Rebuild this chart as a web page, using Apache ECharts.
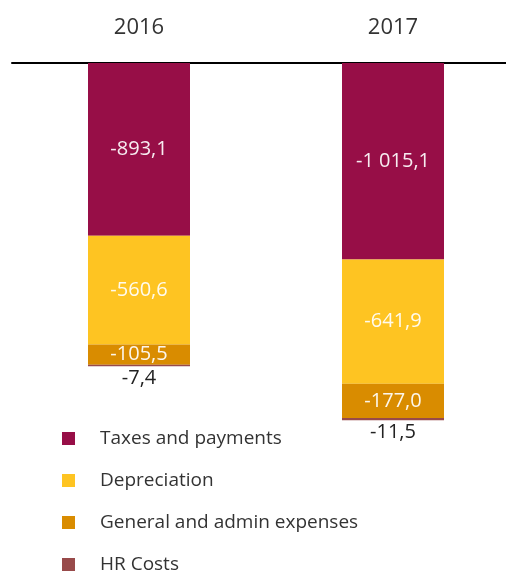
<!DOCTYPE html>
<html>
<head>
<meta charset="utf-8">
<script src="https://cdn.jsdelivr.net/npm/echarts@6/dist/echarts.min.js"></script>
<style>
  html, body { margin: 0; padding: 0; background: #fff; }
  #chart { width: 506px; height: 574px; }
</style>
</head>
<body>
<div id="chart"></div>
<script>
// Operating expenses by type, per year (negative = cost)
const years = ['2016', '2017'];
const seriesNames = ['Taxes and payments', 'Depreciation', 'General and admin expenses', 'HR Costs'];
const taxes = [-893.1, -1015.1];
const depreciation = [-560.6, -641.9];
const generalAdmin = [-105.5, -177.0];
const hrCosts = [-7.4, -11.5];

const colors = ['#970e47', '#fec422', '#d98c00', '#984a4a'];
const fontFamily = '"Open Sans", "Noto Sans", sans-serif';

// -1015.1 -> "-1 015,1"
function fmt(v) {
  const s = Math.abs(v).toFixed(1).split('.');
  const intPart = s[0].replace(/\B(?=(\d{3})+(?!\d))/g, ' ');
  return (v < 0 ? '-' : '') + intPart + ',' + s[1];
}

const values = [taxes, depreciation, generalAdmin, hrCosts];

const series = values.map((data, i) => ({
  name: seriesNames[i],
  type: 'bar',
  stack: 'total',
  barWidth: 102,
  data: data,
  itemStyle: { color: colors[i] },
  label: {
    show: true,
    position: i === 3 ? 'bottom' : 'inside',
    distance: 2,
    color: i === 3 ? '#222' : 'rgba(255,255,255,0.92)',
    fontFamily: fontFamily,
    fontSize: 20,
    formatter: p => fmt(p.value)
  }
}));

const chart = echarts.init(document.getElementById('chart'), null, { renderer: 'canvas' });
chart.setOption({
  animation: false,
  grid: { left: 12, right: -14, top: 63, bottom: 0, containLabel: false, outerBoundsMode: 'none' },
  legend: {
    orient: 'vertical',
    left: 62,
    top: 429,
    height: 150,
    padding: 0,
    itemWidth: 13,
    itemHeight: 13,
    itemGap: 23,
    icon: 'rect',
    data: seriesNames,
    textStyle: {
      color: '#333',
      fontFamily: fontFamily,
      fontSize: 19,
      padding: [0, 0, 0, 20]
    }
  },
  xAxis: {
    type: 'category',
    position: 'top',
    data: years,
    axisLine: { show: true, lineStyle: { color: '#000', width: 2 } },
    axisTick: { show: false },
    axisLabel: { color: '#333', fontFamily: fontFamily, fontSize: 22, margin: 24 }
  },
  yAxis: {
    type: 'value',
    min: -2640,
    max: 0,
    show: false,
    splitLine: { show: false }
  },
  series: series
});
</script>
</body>
</html>
